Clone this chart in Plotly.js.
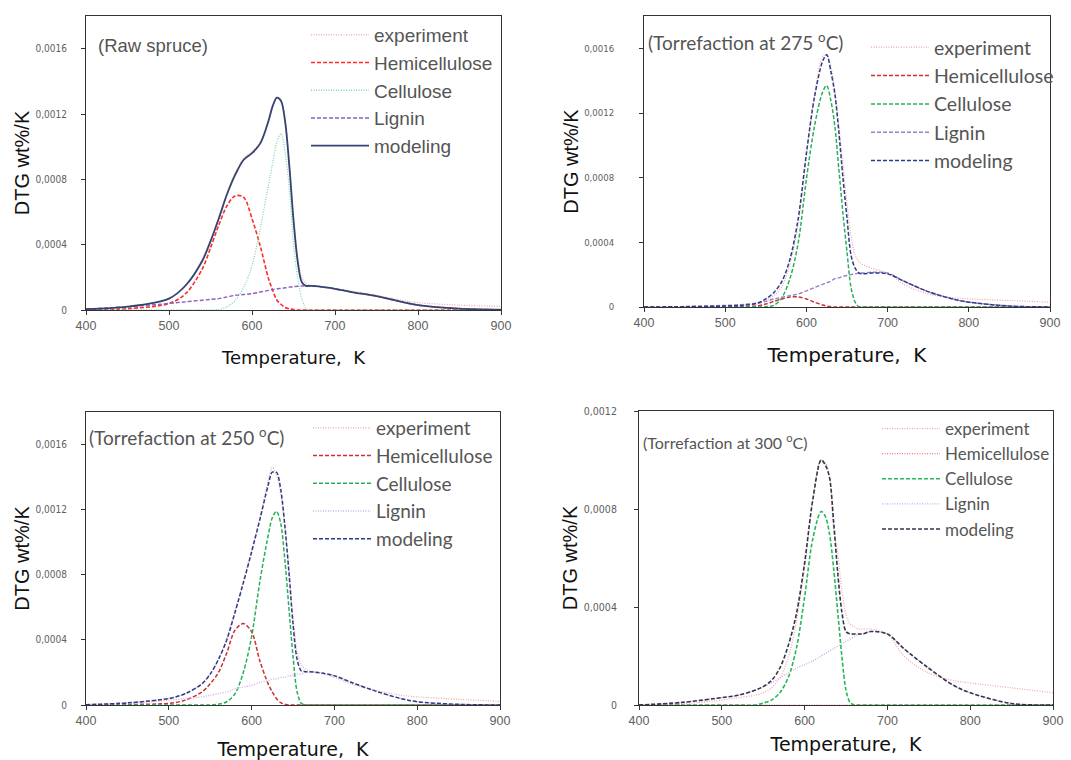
<!DOCTYPE html>
<html>
<head>
<meta charset="utf-8">
<script src="https://cdn.plot.ly/plotly-3.0.1.min.js"></script>
<style>html,body{margin:0;padding:0;background:#fff;}#chart{width:1071px;height:760px;}</style>
</head>
<body>
<div id="chart"></div>
<script>
// Temperature grid (K)
const T = [400,450,500,520,540,550,560,570,580,590,600,610,620,625,630,635,640,645,650,655,660,665,670,680,700,720,750,780,800,850,900];

// Raw spruce
const raw_exp   = [0.000005,0.00002,0.00007,0.00015,0.00031,0.00043,0.00057,0.00072,0.00084,0.00093,0.00097,0.00103,0.00116,0.00125,0.0013,0.00128,0.00116,0.0009,0.00058,0.00033,0.0002,0.000165,0.000152,0.000145,0.00013,0.000115,0.00009,0.00006,0.000045,0.00003,0.000022];
const raw_model = [0.000005,0.00002,0.00007,0.00015,0.0003,0.00042,0.00056,0.00071,0.00083,0.00092,0.00096,0.00102,0.00116,0.00125,0.0013,0.00128,0.00115,0.00088,0.00055,0.0003,0.00017,0.000148,0.000148,0.000145,0.00013,0.00011,0.000085,0.00005,0.00003,0.000008,0.000002];
const raw_hemi  = [0,0.000008,0.00004,0.0001,0.00025,0.00038,0.00052,0.00064,0.0007,0.00069,0.00056,0.00039,0.00019,0.00012,0.00006,0.000035,0.000015,0.000007,0.000003,0,0,0,0,0,0,0,0,0,0,0,0];
const raw_cell  = [0,0,0,0,0,0,0.000002,0.00002,0.00006,0.00014,0.00027,0.0005,0.00077,0.0009,0.00103,0.00108,0.00096,0.00074,0.0004,0.0002,0.00007,0.00001,0,0,0,0,0,0,0,0,0];
const raw_lig   = [0.000005,0.00002,0.00004,0.00005,0.00006,0.000065,0.00007,0.00008,0.00009,0.000095,0.0001,0.00011,0.00012,0.000125,0.00013,0.000133,0.000136,0.00014,0.000143,0.000145,0.000147,0.000148,0.000148,0.000145,0.00013,0.00011,0.000085,0.00005,0.00003,0.000008,0.000002];

// Torrefaction at 275 C
const t275_exp   = [0,0.000002,0.000006,0.00001,0.00002,0.00004,0.00007,0.00013,0.00027,0.00052,0.00093,0.00131,0.00155,0.00156,0.00149,0.00134,0.00112,0.00088,0.00064,0.00044,0.00032,0.00028,0.00026,0.00024,0.00021,0.00014,0.00008,0.000058,0.00005,0.00004,0.00003];
const t275_model = [0,0.000002,0.000006,0.00001,0.000025,0.00005,0.00009,0.00016,0.0003,0.00055,0.00095,0.0013,0.00152,0.00156,0.00146,0.00132,0.00108,0.0008,0.00055,0.00032,0.00024,0.00021,0.000205,0.00021,0.000205,0.00016,0.000095,0.00005,0.00003,0.000006,0];
const t275_hemi  = [0,0,0,0.000002,0.000008,0.000018,0.000035,0.00005,0.000062,0.000062,0.00005,0.00003,0.000012,0.000006,0.000002,0,0,0,0,0,0,0,0,0,0,0,0,0,0,0,0];
const t275_cell  = [0,0,0,0,0,0.000002,0.00001,0.00006,0.00018,0.0004,0.00079,0.00112,0.00133,0.00137,0.00128,0.00112,0.00085,0.00058,0.00034,0.00012,0.00003,0,0,0,0,0,0,0,0,0,0];
const t275_lig   = [0,0.000003,0.00001,0.000015,0.000025,0.000035,0.00005,0.00006,0.00007,0.00008,0.0001,0.00012,0.00014,0.00015,0.00016,0.000175,0.00018,0.00019,0.000195,0.0002,0.000205,0.00021,0.00021,0.000215,0.00021,0.00016,0.000095,0.00005,0.00003,0.000006,0];

// Torrefaction at 250 C
const t250_exp   = [0.000002,0.000013,0.00004,0.00007,0.00013,0.00019,0.00028,0.00041,0.00058,0.00076,0.00095,0.00115,0.00138,0.00146,0.00141,0.0013,0.0011,0.00085,0.00055,0.00033,0.00025,0.00022,0.00021,0.0002,0.00017,0.00013,0.00009,0.00006,0.00005,0.000035,0.000022];
const t250_model = [0.000002,0.000013,0.00004,0.00007,0.00013,0.00019,0.00028,0.0004,0.00057,0.00075,0.00094,0.00114,0.00135,0.00143,0.00143,0.00133,0.00111,0.00082,0.0005,0.00028,0.00021,0.000205,0.000205,0.0002,0.00018,0.00014,0.000085,0.00004,0.00002,0.000004,0];
const t250_hemi  = [0,0.000003,0.00001,0.00003,0.00008,0.00013,0.0002,0.00032,0.00046,0.0005,0.00045,0.00027,0.00013,0.00008,0.00004,0.000015,0.000005,0,0,0,0,0,0,0,0,0,0,0,0,0,0];
const t250_cell  = [0,0,0,0,0,0,0.000005,0.00002,0.00007,0.0002,0.00042,0.00076,0.00104,0.00115,0.00119,0.00112,0.0009,0.0006,0.0003,0.00008,0.00001,0,0,0,0,0,0,0,0,0,0];
const t250_lig   = [0.000002,0.00001,0.00003,0.00004,0.00005,0.00006,0.00007,0.00008,0.0001,0.00011,0.00012,0.00014,0.00015,0.00016,0.00016,0.00017,0.00017,0.00018,0.00018,0.00019,0.00019,0.0002,0.0002,0.0002,0.00018,0.00014,0.000085,0.00004,0.00002,0.000004,0];

// Torrefaction at 300 C
const t300_exp   = [0,0.000005,0.00002,0.00003,0.00004,0.00005,0.00007,0.00011,0.00019,0.00034,0.00056,0.00084,0.001,0.00099,0.00094,0.00072,0.00062,0.00047,0.00037,0.00033,0.00032,0.00031,0.00031,0.00031,0.00029,0.0002,0.00013,0.0001,0.00009,0.00007,0.00005];
const t300_model = [0,0.00001,0.00003,0.00004,0.00006,0.000075,0.0001,0.00015,0.00024,0.00037,0.00058,0.00084,0.001,0.00098,0.00093,0.00075,0.00054,0.00038,0.0003,0.00029,0.00029,0.00029,0.00029,0.0003,0.00029,0.00023,0.00015,0.00008,0.00005,0.000006,0];
const t300_hemi  = [0,0,0,0,0,0,0,0,0,0,0,0,0,0,0,0,0,0,0,0,0,0,0,0,0,0,0,0,0,0,0];
const t300_cell  = [0,0,0,0,0,0.000008,0.00002,0.00005,0.00011,0.00023,0.00044,0.00068,0.00079,0.00077,0.0007,0.00056,0.00038,0.0002,0.00006,0.00001,0,0,0,0,0,0,0,0,0,0,0];
const t300_lig   = [0,0.00001,0.00003,0.00004,0.00006,0.000075,0.00009,0.00011,0.00013,0.00015,0.000165,0.00018,0.0002,0.00021,0.00022,0.00023,0.00024,0.00025,0.00026,0.00027,0.00028,0.00029,0.00029,0.0003,0.00029,0.00023,0.00015,0.00008,0.00005,0.000006,0];

const names = ['experiment','Hemicellulose','Cellulose','Lignin','modeling'];
const xTicks = [400,500,600,700,800,900];
const yTicksA = [0,0.0004,0.0008,0.0012,0.0016];
const yTextA = ['0','0,0004','0,0008','0,0012','0,0016'];
const yTicksB = [0,0.0004,0.0008,0.0012];
const yTextB = ['0','0,0004','0,0008','0,0012'];

const W = 1071, H = 760;
const px = v => v / W;
const py = v => 1 - v / H;
const NARROW = 'Liberation Sans Narrow, Arial Narrow, DejaVu Sans Condensed, Liberation Sans, sans-serif';

const panels = [
  { data:[raw_exp,raw_hemi,raw_cell,raw_lig,raw_model],
    styles:[{c:'#f3a3a3',d:'1px,1.5px',w:1.2},{c:'#ff2a2a',d:'4px,2px',w:1.6},{c:'#80d8a8',d:'1px,1.5px',w:1.3},{c:'#8a60c0',d:'4px,2px',w:1.4},{c:'#34446e',d:'solid',w:1.8}],
    dom:{x:[86,501],y:[16,310]}, yr:[0,0.0018], yt:[yTicksA,yTextA], ylab:{size:10,off:12},
    leg:{x:306,y:16,font:'Liberation Sans, Arial, sans-serif',size:19},
    note:{text:'(Raw spruce)',x:96,y:46,font:'Liberation Sans, Arial, sans-serif',size:18.5},
    xt:{size:18,standoff:19} },
  { data:[t275_exp,t275_hemi,t275_cell,t275_lig,t275_model],
    styles:[{c:'#f3a3a3',d:'1px,1.5px',w:1.2},{c:'#c83232',d:'4px,2px',w:1.5},{c:'#28b058',d:'4px,2px',w:1.5},{c:'#9a80c8',d:'4px,2px',w:1.4},{c:'#283c88',d:'4px,2px',w:1.5}],
    dom:{x:[644,1050],y:[16,307]}, yr:[0,0.0018], yt:[yTicksA,yTextA], ylab:{size:9.5,off:23},
    leg:{x:866,y:28,font:'Lato, Open Sans, sans-serif',size:19.5},
    note:{text:'(Torrefaction at 275 <sup>o</sup>C)',x:646,y:42,font:'Lato, Open Sans, sans-serif',size:19},
    xt:{size:20,standoff:18} },
  { data:[t250_exp,t250_hemi,t250_cell,t250_lig,t250_model],
    styles:[{c:'#f3a3a3',d:'1px,1.5px',w:1.2},{c:'#c83232',d:'4px,2px',w:1.5},{c:'#28b058',d:'4px,2px',w:1.5},{c:'#d0b0e8',d:'1px,1.5px',w:1.4},{c:'#283c88',d:'4px,2px',w:1.5}],
    dom:{x:[86,500],y:[412,705]}, yr:[0,0.0018], yt:[yTicksA,yTextA], ylab:{size:10,off:12},
    leg:{x:308,y:409,font:'Lato, Open Sans, sans-serif',size:19},
    note:{text:'(Torrefaction at 250 <sup>o</sup>C)',x:87,y:437,font:'Lato, Open Sans, sans-serif',size:19},
    xt:{size:19,standoff:25} },
  { data:[t300_exp,t300_hemi,t300_cell,t300_lig,t300_model],
    styles:[{c:'#f3a3a3',d:'1px,1.5px',w:1.2},{c:'#ef7f7f',d:'1px,1.5px',w:1.2},{c:'#28b858',d:'4px,2px',w:1.6},{c:'#cfa8e6',d:'1px,1.5px',w:1.3},{c:'#30364a',d:'4px,2px',w:1.6}],
    dom:{x:[639,1053],y:[411,705]}, yr:[0,0.0012], yt:[yTicksB,yTextB], ylab:{size:10.5,off:15},
    leg:{x:877,y:411,font:'Lato, Open Sans, sans-serif',size:17},
    note:{text:'(Torrefaction at 300 <sup>o</sup>C)',x:641,y:441,font:'Lato, Open Sans, sans-serif',size:16},
    xt:{size:19,standoff:10} }
];

const traces = [];
const layout = {
  width: W, height: H,
  margin: {l:0, r:0, t:0, b:0},
  paper_bgcolor: '#fff', plot_bgcolor: '#fff',
  showlegend: true,
  annotations: []
};

panels.forEach((p, i) => {
  const n = i + 1;
  const xa = 'x' + (n === 1 ? '' : n), ya = 'y' + (n === 1 ? '' : n);
  const legName = 'legend' + (n === 1 ? '' : n);
  p.data.forEach((arr, k) => {
    const s = p.styles[k];
    traces.push({
      type: 'scatter', mode: 'lines', x: T, y: arr, name: names[k],
      xaxis: xa, yaxis: ya, legend: legName,
      line: {color: s.c, width: s.w, dash: s.d, shape: 'spline', smoothing: 0.9},
      hoverinfo: 'x+y'
    });
  });
  const axisCommon = {
    showline: true, linecolor: '#333', linewidth: 1, mirror: true,
    ticks: 'outside', ticklen: 4, tickcolor: '#333', showgrid: false, zeroline: false
  };
  layout['xaxis' + (n === 1 ? '' : n)] = Object.assign({}, axisCommon, {
    domain: [px(p.dom.x[0]), px(p.dom.x[1])], anchor: ya, range: [400, 900],
    tickmode: 'array', tickvals: xTicks, ticktext: xTicks.map(String),
    tickfont: {family: 'Liberation Sans, Arial, sans-serif', size: 12.5, color: '#606060'},
    title: {text: 'Temperature,\u00a0\u00a0K', standoff: p.xt.standoff,
            font: {family: 'DejaVu Sans, Verdana, sans-serif', size: p.xt.size, color: '#111'}}
  });
  layout['yaxis' + (n === 1 ? '' : n)] = Object.assign({}, axisCommon, {
    domain: [py(p.dom.y[1]), py(p.dom.y[0])], anchor: xa, range: p.yr,
    tickmode: 'array', tickvals: p.yt[0], ticktext: p.yt[1],
    ticklabelstandoff: p.ylab.off,
    tickfont: {family: NARROW, size: p.ylab.size, color: '#606060'},
    title: {text: 'DTG wt%/K', standoff: 0,
            font: {family: 'Liberation Sans, Arial, sans-serif', size: 20, color: '#111'}}
  });
  layout[legName] = {
    x: px(p.leg.x), y: py(p.leg.y), xanchor: 'left', yanchor: 'top',
    bgcolor: 'rgba(0,0,0,0)', borderwidth: 0, itemwidth: 58,
    font: {family: p.leg.font, size: p.leg.size, color: '#555'},
    tracegroupgap: 0
  };
  layout.annotations.push({
    xref: 'paper', yref: 'paper', x: px(p.note.x), y: py(p.note.y),
    xanchor: 'left', yanchor: 'middle', showarrow: false, text: p.note.text,
    font: {family: p.note.font, size: p.note.size, color: '#555'}
  });
});

Plotly.newPlot('chart', traces, layout, {displayModeBar: false});
</script>
</body>
</html>
